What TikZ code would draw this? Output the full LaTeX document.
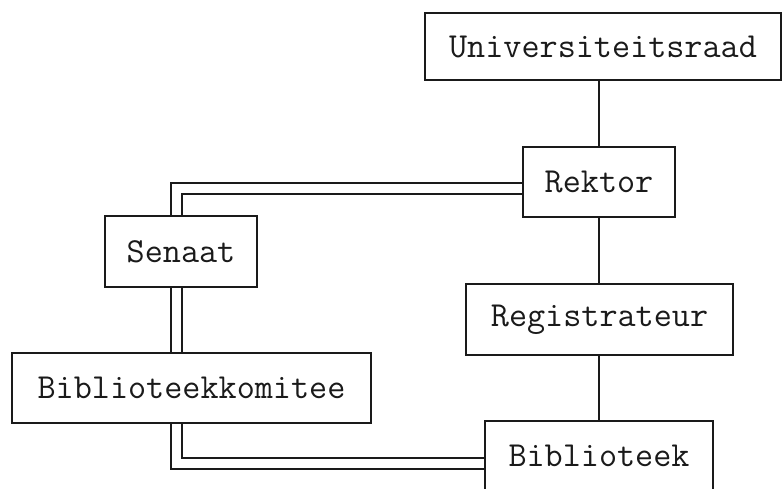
\documentclass[tikz,border=0pt]{standalone}
\usepackage{tikz}
\usetikzlibrary{calc}
\definecolor{ink}{HTML}{1A1A1A}
\tikzset{
  box/.style={draw=ink, line width=0.06cm, inner sep=0pt, text=ink,
    font=\fontsize{30}{36}\selectfont\ttfamily},
  link/.style={draw=ink, line width=0.045cm},
  dbl/.style={draw=ink, line width=0.06cm, double=white, double distance=0.27cm}
}

\begin{document}
\begin{tikzpicture}[x=0.03cm, y=-0.03cm]
  \useasboundingbox (0,0) rectangle (784,489);
  \node[box, minimum width=10.68cm, minimum height=2.01cm] (univ) at (603,46.5) {Universiteitsraad};
  \node[box, minimum width=4.56cm, minimum height=2.1cm] (rektor) at (599,182) {Rektor};
  \node[box, minimum width=4.56cm, minimum height=2.13cm] (senaat) at (181,251.5) {Senaat};
  \node[box, minimum width=8.01cm, minimum height=2.13cm] (regis) at (599.5,319.5) {Registrateur};
  \node[box, minimum width=10.77cm, minimum height=2.1cm] (bibkom) at (191.5,388) {Biblioteekkomitee};
  \node[box, minimum width=6.84cm, minimum height=2.1cm] (bib) at (599,456) {Biblioteek};
  \coordinate (spine) at (176.5,0);
  % line of command
  \draw[link] (rektor.north |- univ.south) -- (rektor.north);
  \draw[link] (rektor.south) -- (rektor.south |- regis.north);
  \draw[link] (regis.south -| bib.north) -- (bib.north);
  % double lines
  \draw[dbl] ($(rektor.west)+(0,6.5)$) -| (senaat.north -| spine);
  \draw[dbl] (senaat.south -| spine) -- (bibkom.north -| spine);
  \draw[dbl] (bibkom.south -| spine) |- ($(bib.west)+(0,7.5)$);
\end{tikzpicture}
\end{document}
